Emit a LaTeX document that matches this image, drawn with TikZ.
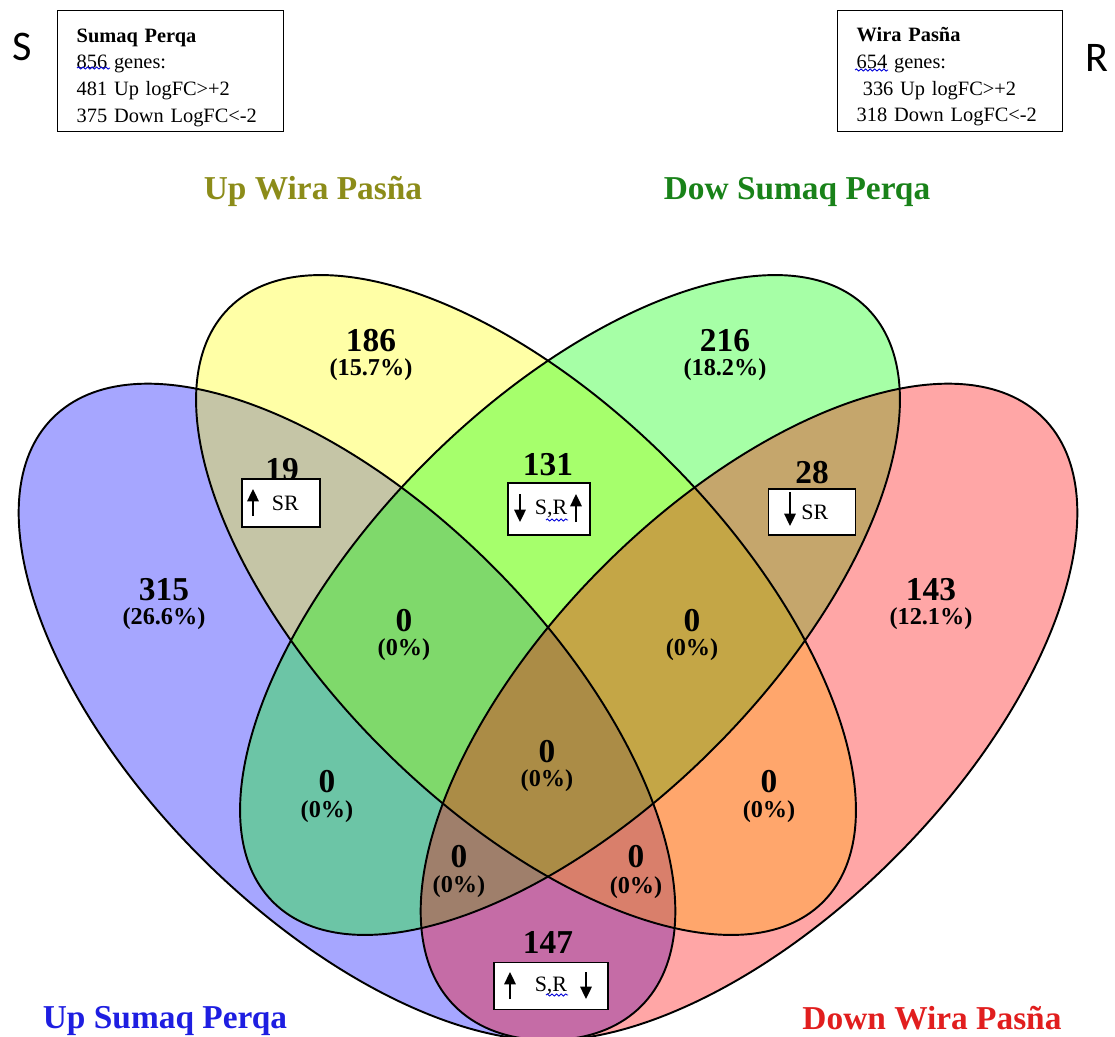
\documentclass[tikz,border=0pt]{standalone}
\usepackage{fontspec}
\setmainfont{Liberation Serif}
\newfontfamily\calibri{Carlito}
\usetikzlibrary{positioning, arrows.meta}
\usetikzlibrary{decorations.pathmorphing}

\definecolor{upsumaq}{RGB}{0,0,255}
\definecolor{upwira}{RGB}{255,255,0}
\definecolor{dnsumaq}{RGB}{0,255,0}
\definecolor{dnwira}{RGB}{255,0,0}
\definecolor{tupwira}{RGB}{140,140,25}
\definecolor{tdnsumaq}{RGB}{25,130,25}
\definecolor{tupsumaq}{RGB}{30,30,225}
\definecolor{tdnwira}{RGB}{225,30,30}

\tikzset{
  set/.style={fill opacity=0.35},
  rim/.style={draw=black, line width=1.1pt},
  num/.style={font=\fontsize{19}{20}\selectfont\bfseries, inner sep=0pt},
  pct/.style={font=\fontsize{13.8}{15}\selectfont\bfseries, inner sep=0pt},
  title/.style={font=\fontsize{19}{20}\selectfont\bfseries, inner sep=0pt, anchor=base},
  infobox/.style={draw, line width=0.8pt, align=left, inner xsep=0.38cm, inner ysep=0.1cm,
    font=\fontsize{11.6}{15.2}\selectfont},
  srbox/.style={draw, fill=white, line width=0.8pt, inner sep=0pt, align=left,
    font=\fontsize{12.5}{13}\selectfont},
  sarrow/.style={line width=1.1pt, -{Triangle[length=7pt, width=6.5pt]}},
  squiggle/.style={draw=blue!85!black, line width=0.5pt, decorate,
    decoration={snake, amplitude=0.6pt, segment length=2.6pt}},
  letter/.style={font=\calibri\fontsize{24}{26}\selectfont, inner sep=0pt},
}

\begin{document}
\begin{tikzpicture}[x=0.02cm, y=-0.02cm]

% Size of the picture
\useasboundingbox (0,0) rectangle (1115,1037);

% Sets, filled first
\fill[upsumaq, set, rotate around={-45:(347,712)}] (347,712) ellipse (416 and 206);
\fill[upwira, set, rotate around={-45:(526,605)}] (526,605) ellipse (420 and 203);
\fill[dnsumaq, set, rotate around={45:(570,605)}] (570,605) ellipse (420 and 203);
\fill[dnwira, set, rotate around={45:(749,712)}] (749,712) ellipse (416 and 206);

% Outlines on top
\draw[rim, rotate around={-45:(347,712)}] (347,712) ellipse (416 and 206);
\draw[rim, rotate around={-45:(526,605)}] (526,605) ellipse (420 and 203);
\draw[rim, rotate around={45:(570,605)}] (570,605) ellipse (420 and 203);
\draw[rim, rotate around={45:(749,712)}] (749,712) ellipse (416 and 206);

% Set titles
\node[title, text=tupwira] (tupw) at (313,200) {Up Wira Pasña};
\node[title, text=tdnsumaq] (tdns) at (797,200) {Dow Sumaq Perqa};
\node[title, text=tupsumaq] (tups) at (165,1028) {Up Sumaq Perqa};
\node[title, text=tdnwira] (tdnw) at (932,1029) {Down Wira Pasña};

% Single sets
\node[num] (n186) at (371,341) {186};
\node[pct] (p186) at (371,370) {(15.7\%)};
\node[num] (n216) at (725,341) {216};
\node[pct] (p216) at (725,370) {(18.2\%)};
\node[num] (n315) at (164,590) {315};
\node[pct] (p315) at (164,619) {(26.6\%)};
\node[num] (n143) at (931,590) {143};
\node[pct] (p143) at (931,619) {(12.1\%)};

% Shared genes
\node[num] (n19) at (282,470) {19};
\node[num] (n131) at (548,465) {131};
\node[num] (n28) at (812,473) {28};
\node[num] (n147) at (548,942) {147};

% Empty overlaps
\node[num] (nml) at (404,621) {0};
\node[pct] (pml) at (404,650) {(0\%)};
\node[num] (nmr) at (692,621) {0};
\node[pct] (pmr) at (692,650) {(0\%)};
\node[num] (ntl) at (327,782) {0};
\node[pct] (ptl) at (327,812) {(0\%)};
\node[num] (nor) at (769,782) {0};
\node[pct] (por) at (769,812) {(0\%)};
\node[num] (nmid) at (547,752) {0};
\node[pct] (pmid) at (547,781) {(0\%)};
\node[num] (nbl) at (459,857) {0};
\node[pct] (pbl) at (459,887) {(0\%)};
\node[num] (nbr) at (636,857) {0};
\node[pct] (pbr) at (636,888) {(0\%)};

% Direction boxes
\node[srbox, text width=1.56cm, minimum height=0.96cm] (b19) at (281,503) {\hspace*{17pt}SR};
\draw[sarrow] (253,516) -- (253,489);
\node[srbox, text width=1.64cm, minimum height=1.04cm] (b131) at (549,509) {\hspace*{15.3pt}S,R};
\draw[sarrow] (520,494) -- (520,522);
\draw[sarrow] (576,522) -- (576,494);
\draw[squiggle] (546,520) -- (568,520);
\node[srbox, text width=1.74cm, minimum height=0.92cm] (b28) at (812,512) {\hspace*{18.7pt}SR};
\draw[sarrow] (790,492) -- (790,526);
\node[srbox, text width=2.28cm, minimum height=0.94cm] (b147) at (551,986) {\hspace*{23.2pt}S,R};
\draw[sarrow] (510,999) -- (510,972);
\draw[sarrow] (586,972) -- (586,999);
\draw[squiggle] (546,995) -- (568,995);

% Cultivar summaries
\node[letter] (lets) at (22,47) {S};
\node[infobox, anchor=north west, text width=3.76cm, minimum height=2.3cm] (sinfo) at (57,10)
  {\rule{0pt}{15pt}\textbf{Sumaq Perqa}\\856 genes:\\481 Up logFC>+2\\375 Down LogFC<-2};
\draw[squiggle] (77,68) -- (110,68);
\node[letter] (letr) at (1097,58) {R};
\node[infobox, anchor=north west, text width=3.74cm, minimum height=2.42cm] (rinfo) at (837,10)
  {\rule{0pt}{14.5pt}\textbf{Wira Pasña}\\654 genes:\\\hspace*{0.3em}336 Up logFC>+2\\318 Down LogFC<-2};
\draw[squiggle] (855,70) -- (888,70);

\end{tikzpicture}
\end{document}
